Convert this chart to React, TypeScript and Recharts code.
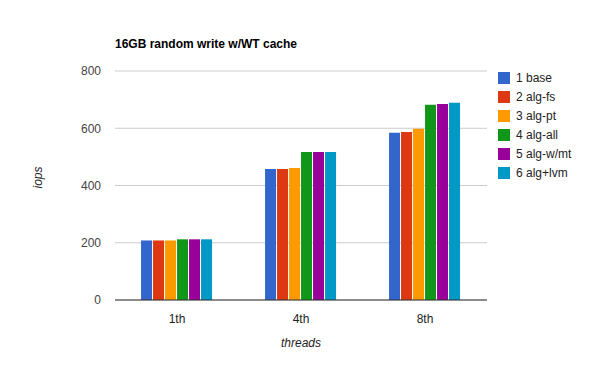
import { BarChart, Bar, XAxis, YAxis, CartesianGrid } from "recharts"

const threads = ["1th", "4th", "8th"]
const base = [208, 458, 584]
const algFs = [208, 458, 587]
const algPt = [208, 461, 598]
const algAll = [212, 517, 682]
const algWmt = [212, 517, 685]
const algLvm = [212, 517, 689]
const yTicks = [0, 200, 400, 600, 800]

const series = [
  { key: "base", name: "1 base", color: "#3366cc" },
  { key: "algFs", name: "2 alg-fs", color: "#dc3912" },
  { key: "algPt", name: "3 alg-pt", color: "#ff9900" },
  { key: "algAll", name: "4 alg-all", color: "#109618" },
  { key: "algWmt", name: "5 alg-w/mt", color: "#990099" },
  { key: "algLvm", name: "6 alg+lvm", color: "#0099c6" },
]

const data = threads.map((t, i) => ({
  thread: t,
  base: base[i],
  algFs: algFs[i],
  algPt: algPt[i],
  algAll: algAll[i],
  algWmt: algWmt[i],
  algLvm: algLvm[i],
}))

const font = "Arial, 'Liberation Sans', sans-serif"

const LegendBox = () => (
  <div style={{ position: "absolute", left: 498, top: 68, fontFamily: font, fontSize: 12, color: "#222" }}>
    {series.map((s) => (
      <div key={s.key} style={{ display: "flex", alignItems: "center", height: 19 }}>
        <span style={{ width: 12, height: 12, background: s.color, marginRight: 6, display: "inline-block" }} />
        {s.name}
      </div>
    ))}
  </div>
)

export default function App() {
  return (
    <div style={{ position: "absolute", left: 0, top: 0, width: 600, height: 371, background: "#fff" }}>
      <div
        style={{
          position: "absolute",
          left: 115,
          top: 37,
          fontFamily: font,
          fontSize: 12,
          fontWeight: "bold",
          color: "#000",
        }}
      >
        16GB random write w/WT cache
      </div>
      <BarChart
        width={600}
        height={371}
        data={data}
        margin={{ top: 71, right: 113, bottom: 0, left: 0 }}
        barCategoryGap="21%"
        barGap={1}
      >
        <CartesianGrid vertical={false} stroke="#cccccc" />
        <XAxis
          dataKey="thread"
          height={71}
          tickLine={false}
          axisLine={{ stroke: "#333333" }}
          tick={{ fill: "#222", fontSize: 12, fontFamily: font }}
          tickMargin={8}
          label={{ value: "threads", position: "insideBottom", offset: 24, fill: "#222", fontSize: 12, fontStyle: "italic", fontFamily: font }}
        />
        <YAxis
          width={115}
          domain={[0, 800]}
          ticks={yTicks}
          tickLine={false}
          axisLine={false}
          tick={{ fill: "#444", fontSize: 12, fontFamily: font }}
          tickMargin={8}
          label={{ value: "iops", angle: -90, position: "insideLeft", offset: 38, dy: 3, fill: "#222", fontSize: 12, fontStyle: "italic", fontFamily: font }}
        />
        {series.map((s) => (
          <Bar key={s.key} dataKey={s.key} name={s.name} fill={s.color} isAnimationActive={false} />
        ))}
      </BarChart>
      <LegendBox />
    </div>
  )
}
